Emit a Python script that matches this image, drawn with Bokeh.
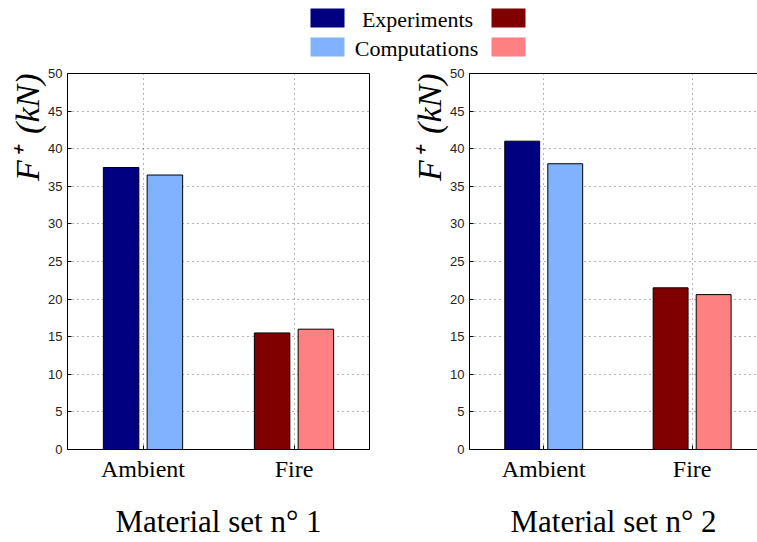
from bokeh.plotting import figure
from bokeh.layouts import column, row
from bokeh.models import Range1d, FixedTicker, LinearAxis
from bokeh.embed import file_html
from bokeh.resources import INLINE
from bokeh.core.properties import value

# ---------------- data ----------------
categories = ["Ambient", "Fire"]
series = ["Experiments", "Computations"]
set1_experiments = [37.5, 15.5]
set1_computations = [36.5, 16.0]
set2_experiments = [41.0, 21.5]
set2_computations = [38.0, 20.6]
panel_titles = ["Material set n° 1", "Material set n° 2"]
y_ticks = [0, 5, 10, 15, 20, 25, 30, 35, 40, 45, 50]
y_label = "F\u207a\u2009 (kN)"

# colours: [ambient, fire]
exp_colors = ["#000080", "#800000"]
comp_colors = ["#80B3FF", "#FF8080"]

SERIF = "Liberation Serif"
SANS = "Liberation Sans"


def make_panel(exp_vals, comp_vals, title, width, border_left, border_right, x_end,
               open_right=False):
    p = figure(width=width, height=480, output_backend="svg", toolbar_location=None,
               x_range=Range1d(0.5, x_end), y_range=Range1d(0, 50),
               min_border_left=border_left, min_border_right=border_right,
               min_border_top=11, min_border_bottom=93, tools="",
               title=y_label, title_location="left")
    xs = [i + 1 for i in range(len(categories))]
    p.vbar(x=[x - 0.145 for x in xs], top=exp_vals, width=0.235,
           fill_color=exp_colors, line_color="black", line_width=1)
    p.vbar(x=[x + 0.145 for x in xs], top=comp_vals, width=0.235,
           fill_color=comp_colors, line_color="black", line_width=1)

    p.xaxis.ticker = FixedTicker(ticks=xs)
    p.xaxis.major_label_overrides = {x: c for x, c in zip(xs, categories)}
    p.yaxis.ticker = FixedTicker(ticks=y_ticks)
    for ax in (p.xaxis, p.yaxis):
        ax.major_tick_in = 4
        ax.major_tick_out = 0
        ax.minor_tick_line_color = None
        ax.axis_line_color = "black"
        ax.major_tick_line_color = "black"
    p.xaxis.major_label_text_font = SERIF
    p.xaxis.major_label_text_font_size = "24px"
    p.xaxis.major_label_text_color = "black"
    p.xaxis.major_label_standoff = 6
    p.xaxis.axis_label = title
    p.xaxis.axis_label_text_font = SERIF
    p.xaxis.axis_label_text_font_style = "normal"
    p.xaxis.axis_label_text_font_size = "31px"
    p.xaxis.axis_label_text_color = "black"
    p.xaxis.axis_label_standoff = 19
    p.yaxis.major_label_text_font = SANS
    p.yaxis.major_label_text_font_size = "13px"
    p.yaxis.major_label_text_color = "#222222"
    p.yaxis.major_label_standoff = 5

    p.title.text_font = SERIF
    p.title.text_font_style = "italic"
    p.title.text_font_size = "34px"
    p.title.text_color = "black"
    p.title.align = "right"
    p.title.standoff = 0

    p.xgrid.ticker = FixedTicker(ticks=xs)
    p.ygrid.ticker = FixedTicker(ticks=y_ticks)
    for g in (p.xgrid, p.ygrid):
        g.grid_line_color = "#444444"
        g.grid_line_dash = "1 4"
        g.grid_line_width = 1
        g.grid_line_alpha = 0.8

    if open_right:
        # the reference crops this panel at its right side: only a top border
        p.outline_line_color = None
        top = LinearAxis(ticker=FixedTicker(ticks=[]),
                         major_tick_in=0, major_tick_out=0,
                         minor_tick_line_color=None, axis_line_color="black")
        p.add_layout(top, "above")
    else:
        p.outline_line_color = "black"
        p.outline_line_width = 1
        p.outline_line_alpha = 1
    p.background_fill_color = "white"
    p.border_fill_color = "white"
    return p


p1 = make_panel(set1_experiments, set1_computations, panel_titles[0],
                408, 67, 39, 2.5)
p2 = make_panel(set2_experiments, set2_computations, panel_titles[1],
                349, 56, 0, 0.5 + 293 / 151, open_right=True)

# ---------------- legend ----------------
leg = figure(width=757, height=62, output_backend="svg", toolbar_location=None,
             x_range=Range1d(0, 757), y_range=Range1d(62, 0), tools="",
             min_border=0)
leg.axis.visible = False
leg.grid.visible = False
leg.outline_line_color = None
row_top = [8, 37]
row_h = 19
left_cols = [exp_colors[0], comp_colors[0]]
right_cols = [exp_colors[1], comp_colors[1]]
leg.quad(left=[310, 310], right=[344, 344], top=row_top,
         bottom=[t + row_h for t in row_top], fill_color=left_cols, line_color=None)
leg.quad(left=[491, 491], right=[525, 525], top=row_top,
         bottom=[t + row_h for t in row_top], fill_color=right_cols, line_color=None)
leg.text(x=[417, 416], y=[t + row_h / 2 + 1 for t in row_top], text=series,
         text_align="center", text_baseline="middle",
         text_font=value(SERIF), text_font_size="22px", text_color="black")

layout = column(leg, row(p1, p2))
open("out.html", "w").write(file_html(layout, INLINE))
